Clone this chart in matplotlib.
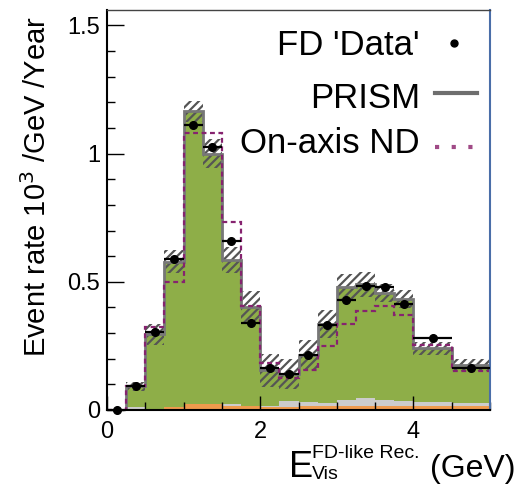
import numpy as np
import matplotlib
matplotlib.use("Agg")
import matplotlib.pyplot as plt
from matplotlib.ticker import MultipleLocator

plt.rcParams['font.family'] = ['Liberation Sans', 'DejaVu Sans']
plt.rcParams['hatch.linewidth'] = 1.6

# binning (GeV)
edges = np.array([0, 0.25, 0.5, 0.75, 1.0, 1.25, 1.5, 1.75, 2.0, 2.25, 2.5,
                  2.75, 3.0, 3.25, 3.5, 3.75, 4.0, 4.5, 5.0])

# FD 'Data' points
data = np.array([0.0, 0.093, 0.305, 0.587, 1.113, 1.027, 0.658, 0.338, 0.163,
                 0.14, 0.214, 0.331, 0.428, 0.483, 0.479, 0.412, 0.28, 0.163])
# PRISM prediction (total) and its uncertainty band
prism = np.array([0.0, 0.093, 0.295, 0.578, 1.165, 1.0, 0.585, 0.40, 0.155,
                  0.14, 0.215, 0.335, 0.478, 0.49, 0.455, 0.433, 0.24, 0.175])
prism_err = np.array([0.0, 0.018, 0.04, 0.045, 0.04, 0.055, 0.05, 0.065, 0.065,
                      0.058, 0.058, 0.054, 0.054, 0.05, 0.035, 0.034, 0.025, 0.022])
# background components at the bottom
bkg_orange = np.array([0, 0.002, 0.005, 0.01, 0.025, 0.025, 0.017, 0.015, 0.013,
                       0.013, 0.017, 0.017, 0.017, 0.017, 0.017, 0.017, 0.017, 0.017])
bkg_grey = np.array([0, 0.008, 0.0, 0.0, 0.0, 0.0, 0.008, 0.002, 0.002,
                     0.024, 0.015, 0.011, 0.023, 0.029, 0.023, 0.017, 0.013, 0.011])
# on-axis ND prediction
onaxis = np.array([0.0, 0.093, 0.323, 0.50, 1.08, 1.08, 0.732, 0.405, 0.183,
                   0.124, 0.157, 0.249, 0.335, 0.386, 0.405, 0.37, 0.255, 0.152])

green = '#8eae48'
purple = '#86236f'

fig = plt.figure(figsize=(5.21, 4.84), dpi=100)
ax = fig.add_axes([0.2054, 0.1529, 0.7351, 0.8264])

ax.stairs(prism, edges, fill=True, color=green, lw=0)
ax.stairs(bkg_orange + bkg_grey, edges, fill=True, color='#cccccc', lw=0)
ax.stairs(bkg_orange, edges, fill=True, color='#ee9a4d', lw=0)
ax.stairs(prism + prism_err, edges, baseline=prism - prism_err, fill=True,
          facecolor='none', edgecolor='#555555', hatch='////', lw=0)
ax.stairs(prism, edges, color='#777777', lw=2, baseline=None)
ax.stairs(onaxis, edges, color=purple, lw=1.6, ls=(0, (2.2, 1.6)), baseline=None)

centers = 0.5 * (edges[1:] + edges[:-1])
halfw = 0.5 * np.diff(edges)
ax.errorbar(centers, data, xerr=halfw, fmt='o', color='black', ms=5.5,
            elinewidth=1.6, capsize=0, clip_on=False, zorder=5)

ax.set_xlim(0, 5)
ax.set_ylim(0, 1.56)
ax.xaxis.set_major_locator(MultipleLocator(2))
ax.xaxis.set_minor_locator(MultipleLocator(0.5))
ax.yaxis.set_major_locator(MultipleLocator(0.5))
ax.yaxis.set_minor_locator(MultipleLocator(0.1))
ax.set_yticks([0, 0.5, 1, 1.5], ['0', '0.5', '1', '1.5'])
ax.tick_params(which='both', direction='in', labelsize=17)
ax.tick_params(axis='x', which='major', length=10, width=1, pad=8)
ax.tick_params(axis='y', which='major', length=12, width=1, pad=5)
ax.tick_params(which='minor', length=6, width=1)

for s in ['left', 'bottom']:
    ax.spines[s].set_linewidth(1.5)
ax.spines['top'].set_color('#444444')
ax.spines['top'].set_linewidth(1)
ax.spines['right'].set_color('#4a6ea8')
ax.spines['right'].set_linewidth(1.5)

fig.text(37 / 521, 1 - 186 / 484, 'Event rate 10$^3$ /GeV /Year', fontsize=21,
         rotation=90, ha='center', va='center')

# x label pieces
fig.text(289 / 521, 1 - 477 / 484, 'E', fontsize=26, va='baseline')
fig.text(312 / 521, 1 - 458 / 484, 'FD-like Rec.', fontsize=14, va='baseline')
fig.text(312 / 521, 1 - 479 / 484, 'Vis', fontsize=14, va='baseline')
fig.text(430 / 521, 1 - 477 / 484, '(GeV)', fontsize=23, va='baseline')

# legend drawn by hand so the labels are right aligned
tx = 0.817
ax.text(tx, 0.8875, "FD 'Data'", fontsize=25, ha='right', va='baseline', transform=ax.transAxes)
ax.text(tx, 0.755, 'PRISM', fontsize=25, ha='right', va='baseline', transform=ax.transAxes)
ax.text(tx, 0.6425, 'On-axis ND', fontsize=25, ha='right', va='baseline', transform=ax.transAxes)
ax.plot([0.906], [0.9175], 'o', color='black', ms=5, transform=ax.transAxes)
ax.plot([0.856, 0.966], [0.7925, 0.7925], color='#6e6e6e', lw=3, transform=ax.transAxes)
ax.plot([0.856, 0.966], [0.6575, 0.6575], color='#a04a86', lw=3,
        ls=(0, (1, 3)), transform=ax.transAxes)

fig.savefig('out.png', dpi=100)
